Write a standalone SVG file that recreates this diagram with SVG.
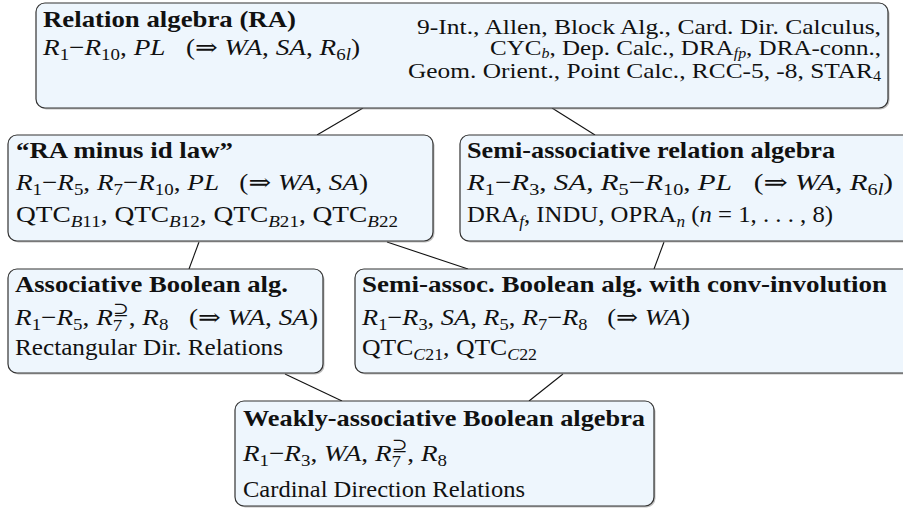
<svg xmlns="http://www.w3.org/2000/svg" width="903" height="509" viewBox="0 0 903 509">
<style>
.box{fill:#eef6fd;stroke:#333;stroke-width:1.2}
.sh{fill:#8a8a8a;opacity:.55}
.con line{stroke:#111;stroke-width:1.1}
text{font-family:"Liberation Serif","DejaVu Serif",serif;font-size:23px;fill:#111}
.b{font-weight:bold;font-size:24px}
.i{font-style:italic}
.s{font-size:16px}
.r{font-size:22px}
.r .s{font-size:14px}
.sym{font-family:"DejaVu Serif",serif;font-style:normal}
</style>
<rect width="903" height="509" fill="#fff"/>
<g class="con" id="connectors">
<line x1="363" y1="108" x2="317" y2="135"/>
<line x1="552" y1="108" x2="595" y2="135"/>
<line x1="199" y1="242" x2="189" y2="269"/>
<line x1="387" y1="242" x2="468" y2="269"/>
<line x1="664" y1="242" x2="654" y2="269"/>
<line x1="285" y1="374" x2="342" y2="401"/>
<line x1="563" y1="374" x2="529" y2="401"/>
</g>
<g id="ra">
<rect class="sh" x="37.5" y="4.5" width="852" height="105" rx="9"/>
<rect class="box" x="36" y="3" width="852" height="105" rx="9"/>
<text class="b" x="43" y="27" textLength="253" lengthAdjust="spacingAndGlyphs">Relation algebra (RA)</text>
<text x="43" y="55" textLength="317" lengthAdjust="spacingAndGlyphs"><tspan class="i">R</tspan><tspan class="s" dy="5">1</tspan><tspan dy="-5">−</tspan><tspan class="i">R</tspan><tspan class="s" dy="5">10</tspan><tspan dy="-5">, </tspan><tspan class="i">PL</tspan>&#160;&#160;&#160;(<tspan class="sym">⇒</tspan> <tspan class="i">WA</tspan>, <tspan class="i">SA</tspan>, <tspan class="i">R</tspan><tspan class="s" dy="5">6<tspan class="i">l</tspan></tspan><tspan dy="-5">)</tspan></text>
<text class="r" x="881" y="34" text-anchor="end" textLength="464" lengthAdjust="spacingAndGlyphs">9-Int., Allen, Block Alg., Card. Dir. Calculus,</text>
<text class="r" x="881" y="55" text-anchor="end" textLength="391" lengthAdjust="spacingAndGlyphs">CYC<tspan class="s i" dy="3">b</tspan><tspan dy="-3">, Dep. Calc., DRA</tspan><tspan class="s i" dy="3">fp</tspan><tspan dy="-3">, DRA-conn.,</tspan></text>
<text class="r" x="881" y="78" text-anchor="end" textLength="473" lengthAdjust="spacingAndGlyphs">Geom. Orient., Point Calc., RCC-5, -8, STAR<tspan class="s" dy="3">4</tspan></text>
</g>
<g id="ra-minus-id">
<rect class="sh" x="9.5" y="136.5" width="425" height="106" rx="9"/>
<rect class="box" x="8" y="135" width="425" height="106" rx="9"/>
<text class="b" x="16" y="158" textLength="217" lengthAdjust="spacingAndGlyphs">“RA minus id law”</text>
<text x="16" y="190" textLength="352" lengthAdjust="spacingAndGlyphs"><tspan class="i">R</tspan><tspan class="s" dy="5">1</tspan><tspan dy="-5">−</tspan><tspan class="i">R</tspan><tspan class="s" dy="5">5</tspan><tspan dy="-5">, </tspan><tspan class="i">R</tspan><tspan class="s" dy="5">7</tspan><tspan dy="-5">−</tspan><tspan class="i">R</tspan><tspan class="s" dy="5">10</tspan><tspan dy="-5">, </tspan><tspan class="i">PL</tspan>&#160;&#160;&#160;(<tspan class="sym">⇒</tspan> <tspan class="i">WA</tspan>, <tspan class="i">SA</tspan>)</text>
<text x="16" y="222" textLength="382" lengthAdjust="spacingAndGlyphs">QTC<tspan class="s" dy="5"><tspan class="i">B</tspan>11</tspan><tspan dy="-5">, QTC</tspan><tspan class="s" dy="5"><tspan class="i">B</tspan>12</tspan><tspan dy="-5">, QTC</tspan><tspan class="s" dy="5"><tspan class="i">B</tspan>21</tspan><tspan dy="-5">, QTC</tspan><tspan class="s" dy="5"><tspan class="i">B</tspan>22</tspan></text>
</g>
<g id="semi-assoc-ra">
<rect class="sh" x="461.5" y="136.5" width="460" height="106" rx="9"/>
<rect class="box" x="460" y="135" width="460" height="106" rx="9"/>
<text class="b" x="467" y="158" textLength="368" lengthAdjust="spacingAndGlyphs">Semi-associative relation algebra</text>
<text x="467" y="190" textLength="426" lengthAdjust="spacingAndGlyphs"><tspan class="i">R</tspan><tspan class="s" dy="5">1</tspan><tspan dy="-5">−</tspan><tspan class="i">R</tspan><tspan class="s" dy="5">3</tspan><tspan dy="-5">, </tspan><tspan class="i">SA</tspan>, <tspan class="i">R</tspan><tspan class="s" dy="5">5</tspan><tspan dy="-5">−</tspan><tspan class="i">R</tspan><tspan class="s" dy="5">10</tspan><tspan dy="-5">, </tspan><tspan class="i">PL</tspan>&#160;&#160;&#160;(<tspan class="sym">⇒</tspan> <tspan class="i">WA</tspan>, <tspan class="i">R</tspan><tspan class="s" dy="5">6<tspan class="i">l</tspan></tspan><tspan dy="-5">)</tspan></text>
<text x="467" y="222" textLength="366" lengthAdjust="spacingAndGlyphs">DRA<tspan class="s i" dy="5">f</tspan><tspan dy="-5">, INDU, OPRA</tspan><tspan class="s i" dy="5">n</tspan><tspan dy="-5"> (</tspan><tspan class="i">n</tspan> = 1, . . . , 8)</text>
</g>
<g id="assoc-boolean">
<rect class="sh" x="9.5" y="270.5" width="315" height="104" rx="9"/>
<rect class="box" x="8" y="269" width="315" height="104" rx="9"/>
<text class="b" x="15" y="292" textLength="273" lengthAdjust="spacingAndGlyphs">Associative Boolean alg.</text>
<text x="15" y="325" textLength="303" lengthAdjust="spacingAndGlyphs"><tspan class="i">R</tspan><tspan class="s" dy="5">1</tspan><tspan dy="-5">−</tspan><tspan class="i">R</tspan><tspan class="s" dy="5">5</tspan><tspan dy="-5">, </tspan><tspan class="i">R</tspan><tspan class="s" dy="6">7</tspan><tspan class="s sym" dx="-8" dy="-16">⊇</tspan><tspan dy="10">, </tspan><tspan class="i">R</tspan><tspan class="s" dy="5">8</tspan><tspan dy="-5">&#160;&#160;&#160;(</tspan><tspan class="sym">⇒</tspan> <tspan class="i">WA</tspan>, <tspan class="i">SA</tspan>)</text>
<text x="15" y="355" textLength="268" lengthAdjust="spacingAndGlyphs">Rectangular Dir. Relations</text>
</g>
<g id="semi-assoc-boolean">
<rect class="sh" x="356.5" y="270.5" width="560" height="104" rx="9"/>
<rect class="box" x="355" y="269" width="560" height="104" rx="9"/>
<text class="b" x="362" y="292" textLength="525" lengthAdjust="spacingAndGlyphs">Semi-assoc. Boolean alg. with conv-involution</text>
<text x="362" y="325" textLength="328" lengthAdjust="spacingAndGlyphs"><tspan class="i">R</tspan><tspan class="s" dy="5">1</tspan><tspan dy="-5">−</tspan><tspan class="i">R</tspan><tspan class="s" dy="5">3</tspan><tspan dy="-5">, </tspan><tspan class="i">SA</tspan>, <tspan class="i">R</tspan><tspan class="s" dy="5">5</tspan><tspan dy="-5">, </tspan><tspan class="i">R</tspan><tspan class="s" dy="5">7</tspan><tspan dy="-5">−</tspan><tspan class="i">R</tspan><tspan class="s" dy="5">8</tspan><tspan dy="-5">&#160;&#160;&#160;(</tspan><tspan class="sym">⇒</tspan> <tspan class="i">WA</tspan>)</text>
<text x="362" y="355" textLength="175" lengthAdjust="spacingAndGlyphs">QTC<tspan class="s" dy="5"><tspan class="i">C</tspan>21</tspan><tspan dy="-5">, QTC</tspan><tspan class="s" dy="5"><tspan class="i">C</tspan>22</tspan></text>
</g>
<g id="weakly-assoc">
<rect class="sh" x="236.5" y="402.5" width="419" height="105" rx="9"/>
<rect class="box" x="235" y="401" width="419" height="105" rx="9"/>
<text class="b" x="243" y="426" textLength="402" lengthAdjust="spacingAndGlyphs">Weakly-associative Boolean algebra</text>
<text x="243" y="461" textLength="204" lengthAdjust="spacingAndGlyphs"><tspan class="i">R</tspan><tspan class="s" dy="5">1</tspan><tspan dy="-5">−</tspan><tspan class="i">R</tspan><tspan class="s" dy="5">3</tspan><tspan dy="-5">, </tspan><tspan class="i">WA</tspan>, <tspan class="i">R</tspan><tspan class="s" dy="6">7</tspan><tspan class="s sym" dx="-8" dy="-16">⊇</tspan><tspan dy="10">, </tspan><tspan class="i">R</tspan><tspan class="s" dy="5">8</tspan></text>
<text x="243" y="497" textLength="282" lengthAdjust="spacingAndGlyphs">Cardinal Direction Relations</text>
</g>
</svg>
